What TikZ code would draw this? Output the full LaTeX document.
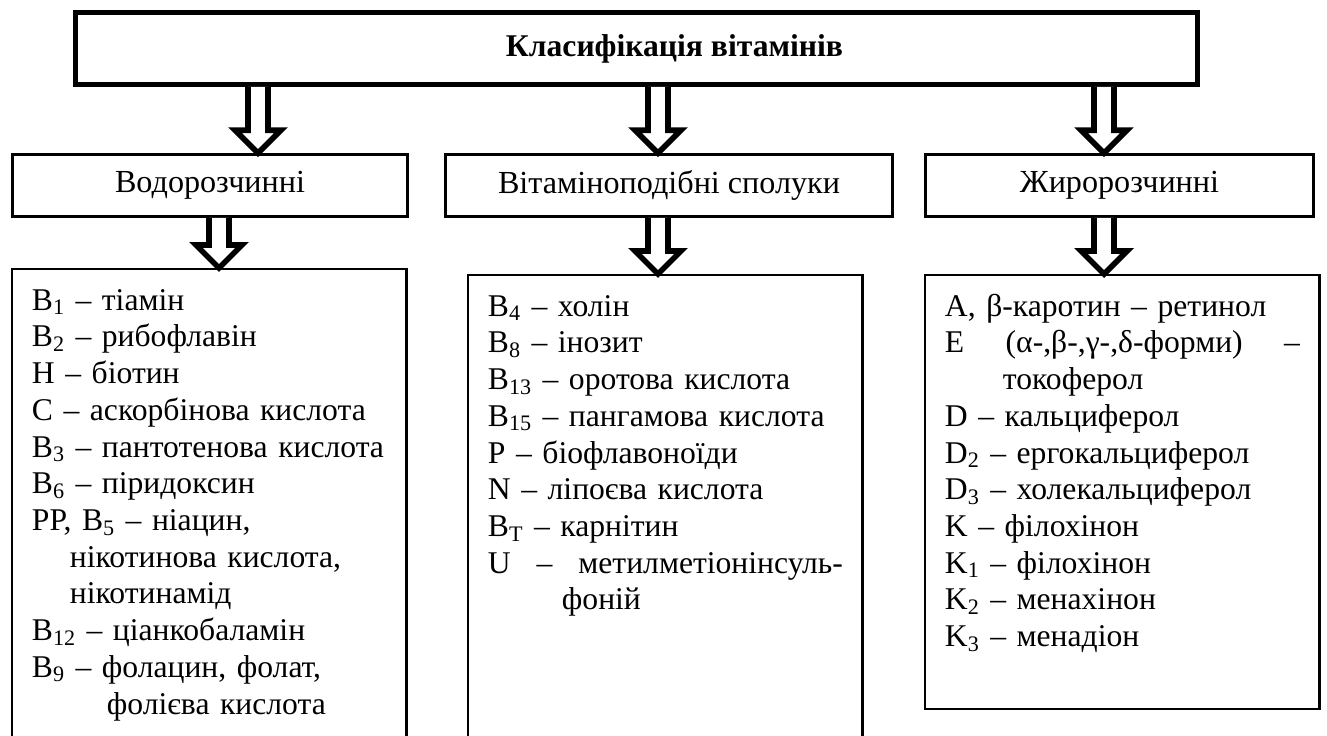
\documentclass[tikz,border=0pt]{standalone}
\usepackage{fontspec}
\setmainfont{Liberation Serif}
\usepackage{tikz}
\usetikzlibrary{calc}
\tikzstyle{rootbox} = [rectangle, draw=black, line width=2.8pt, minimum width=22.44cm, minimum height=1.44cm, font=\fontsize{18}{21}\selectfont\bfseries]
\tikzstyle{groupbox} = [rectangle, draw=black, line width=1.5pt, minimum height=1.24cm, font=\fontsize{18.3}{22}\selectfont]
\tikzstyle{listbox} = [rectangle, draw=black, line width=1.4pt, anchor=north west, text width=7.1cm, inner xsep=0.395cm, inner ysep=0.44cm, text height=0.38cm, align=left, font=\fontsize{18}{20.9}\selectfont]
\tikzstyle{hollow} = [draw=black, fill=white, line width=3.2pt, line join=miter]
\newcommand{\hollowarrow}[3]{%
  \draw [hollow] ($(#2.south -| #1)+(-10,0)$) -- ($(#3.north -| #1)+(-10,-23)$) -- ++(-13,0) -- (#3.north -| #1) -- ++(23,-23) -- ++(-13,0) -- ($(#2.south -| #1)+(10,0)$);}

\begin{document}
\begin{tikzpicture}[x=0.02cm, y=-0.02cm]
		\useasboundingbox (0,0) rectangle (1327,735);
		\node (root) [rootbox] at (636.5,48.5) {\hspace*{1.52cm}Класифікація вітамінів};
		\node (water) [groupbox, minimum width=7.9cm] at (210,185.5) {Водорозчинні};
		\node (like) [groupbox, minimum width=8.94cm] at (669,185.5) {Вітаміноподібні сполуки};
		\node (fat) [groupbox, minimum width=7.76cm] at (1119.5,185.5) {Жиророзчинні};
		\node (waterlist) [listbox, text depth=8.58cm] at (11,268) {B\textsubscript{1} – тіамін\\
			B\textsubscript{2} – рибофлавін\\
			H – біотин\\
			C – аскорбінова кислота\\
			B\textsubscript{3} – пантотенова кислота\\
			B\textsubscript{6} – піридоксин\\
			PP, B\textsubscript{5} – ніацин,\\
			\hspace*{0.76cm}нікотинова кислота,\\
			\hspace*{0.76cm}нікотинамід\\
			B\textsubscript{12} – ціанкобаламін\\
			B\textsubscript{9} – фолацин, фолат,\\
			\hspace*{1.5cm}фолієва кислота};
		\node (likelist) [listbox, text depth=8.46cm] at (467,274) {B\textsubscript{4} – холін\\
			B\textsubscript{8} – інозит\\
			B\textsubscript{13} – оротова кислота\\
			B\textsubscript{15} – пангамова кислота\\
			P – біофлавоноїди\\
			N – ліпоєва кислота\\
			B\textsubscript{T} – карнітин\\
			\makebox[7.1cm][s]{U\hfill–\hfill метилметіонінсуль-}\\
			\hspace*{1.48cm}фоній};
		\node (fatlist) [listbox, text depth=7.42cm] at (924,274) {A, β-каротин – ретинол\\
			\makebox[7.1cm][s]{E\hfill(α-,β-,γ-,δ-форми)\hfill–}\\
			\hspace*{1.16cm}токоферол\\
			D – кальциферол\\
			D\textsubscript{2} – ергокальциферол\\
			D\textsubscript{3} – холекальциферол\\
			K – філохінон\\
			K\textsubscript{1} – філохінон\\
			K\textsubscript{2} – менахінон\\
			K\textsubscript{3} – менадіон};
		\coordinate (a1) at (258,0);
		\coordinate (a2) at (658,0);
		\coordinate (a3) at (1104,0);
		\coordinate (b1) at (219,0);
		\hollowarrow{a1}{root}{water}
		\hollowarrow{a2}{root}{like}
		\hollowarrow{a3}{root}{fat}
		\hollowarrow{b1}{water}{waterlist}
		\hollowarrow{a2}{like}{likelist}
		\hollowarrow{a3}{fat}{fatlist}
\end{tikzpicture}
\end{document}
